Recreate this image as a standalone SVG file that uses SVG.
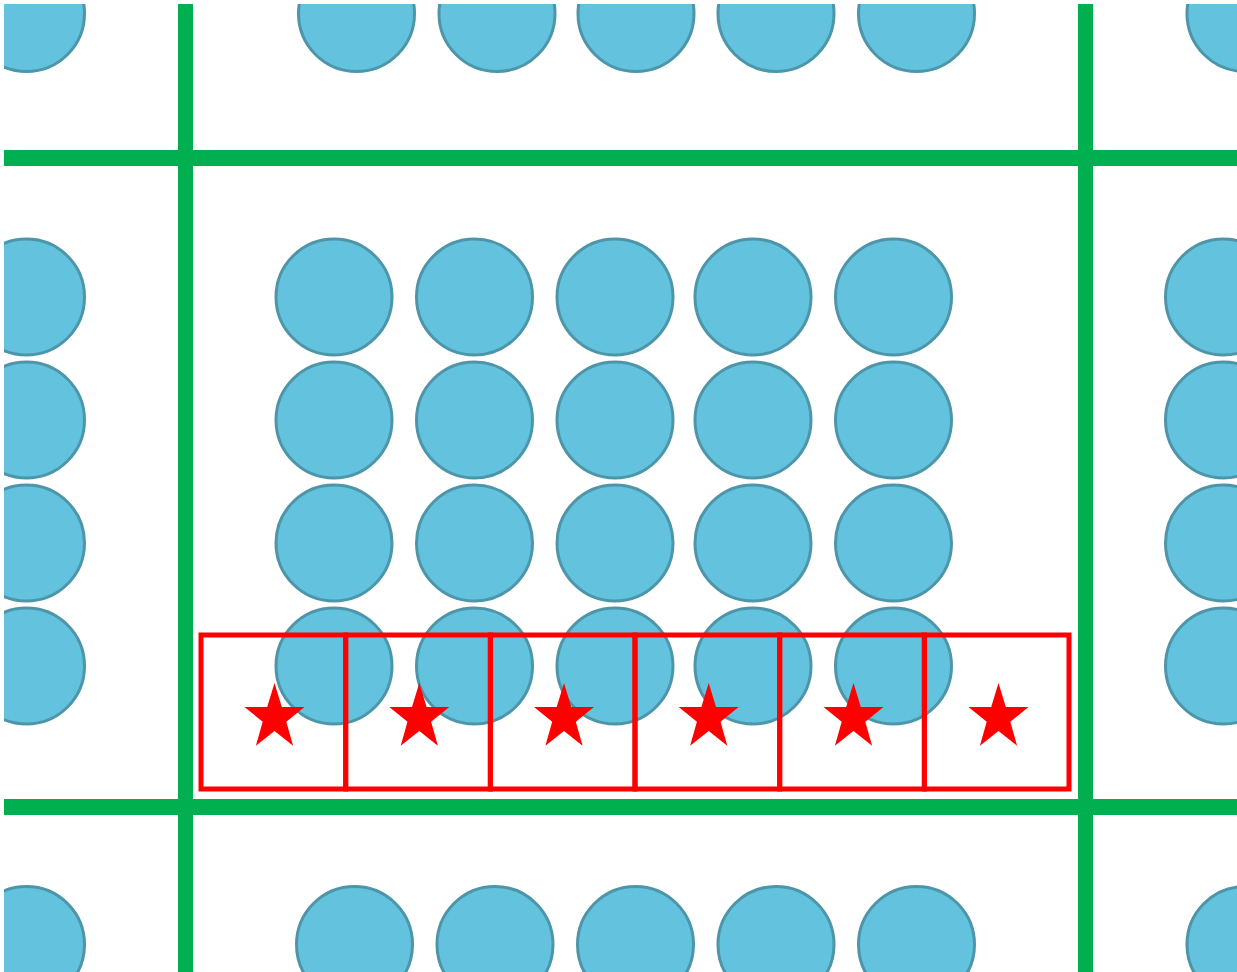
<svg xmlns="http://www.w3.org/2000/svg" xmlns:xlink="http://www.w3.org/1999/xlink" width="1237" height="972" viewBox="0 0 1237 972">
  <style>
    .dot { fill: #63c2dd; stroke: #4d96aa; stroke-width: 3; }
    .grid { stroke: #00b050; stroke-width: 15; fill: none; }
    .cell { fill: none; stroke: #ff0000; stroke-width: 5; }
    .star { fill: #ff0000; }
  </style>
  <defs>
    <clipPath id="frame">
      <rect x="4" y="4" width="1233" height="968"/>
    </clipPath>
    <circle id="c" r="58" class="dot"/>
    <polygon id="s" class="star" points="0,-34.7 7.3,-10.7 30,-10.7 11.8,4.1 18.6,28.1 0,13.2 -18.6,28.1 -11.8,4.1 -30,-10.7 -7.3,-10.7"/>
  </defs>
  <rect x="0" y="0" width="1237" height="972" fill="#ffffff"/>
  <g clip-path="url(#frame)">
    <g id="circles">
      <!-- top partial row -->
      <use xlink:href="#c" x="26.5" y="13.5"/>
      <use xlink:href="#c" x="356.5" y="13.5"/>
      <use xlink:href="#c" x="497" y="13.5"/>
      <use xlink:href="#c" x="636" y="13.5"/>
      <use xlink:href="#c" x="776" y="13.5"/>
      <use xlink:href="#c" x="916.5" y="13.5"/>
      <use xlink:href="#c" x="1245" y="13.5"/>
      <!-- left column -->
      <use xlink:href="#c" x="26.5" y="297"/>
      <use xlink:href="#c" x="26.5" y="420"/>
      <use xlink:href="#c" x="26.5" y="543"/>
      <use xlink:href="#c" x="26.5" y="666"/>
      <!-- right column -->
      <use xlink:href="#c" x="1223.5" y="297"/>
      <use xlink:href="#c" x="1223.5" y="420"/>
      <use xlink:href="#c" x="1223.5" y="543"/>
      <use xlink:href="#c" x="1223.5" y="666"/>
      <!-- central block -->
      <use xlink:href="#c" x="334" y="297"/>
      <use xlink:href="#c" x="474.5" y="297"/>
      <use xlink:href="#c" x="615" y="297"/>
      <use xlink:href="#c" x="753" y="297"/>
      <use xlink:href="#c" x="893.5" y="297"/>
      <use xlink:href="#c" x="334" y="420"/>
      <use xlink:href="#c" x="474.5" y="420"/>
      <use xlink:href="#c" x="615" y="420"/>
      <use xlink:href="#c" x="753" y="420"/>
      <use xlink:href="#c" x="893.5" y="420"/>
      <use xlink:href="#c" x="334" y="543"/>
      <use xlink:href="#c" x="474.5" y="543"/>
      <use xlink:href="#c" x="615" y="543"/>
      <use xlink:href="#c" x="753" y="543"/>
      <use xlink:href="#c" x="893.5" y="543"/>
      <use xlink:href="#c" x="334" y="666"/>
      <use xlink:href="#c" x="474.5" y="666"/>
      <use xlink:href="#c" x="615" y="666"/>
      <use xlink:href="#c" x="753" y="666"/>
      <use xlink:href="#c" x="893.5" y="666"/>
      <!-- bottom partial row -->
      <use xlink:href="#c" x="26.5" y="944.5"/>
      <use xlink:href="#c" x="354.5" y="944.5"/>
      <use xlink:href="#c" x="495" y="944.5"/>
      <use xlink:href="#c" x="635.5" y="944.5"/>
      <use xlink:href="#c" x="776" y="944.5"/>
      <use xlink:href="#c" x="916.5" y="944.5"/>
      <use xlink:href="#c" x="1245" y="944.5"/>
    </g>
    <g id="grid-lines">
      <line class="grid" x1="185.5" y1="0" x2="185.5" y2="972"/>
      <line class="grid" x1="1085.5" y1="0" x2="1085.5" y2="972"/>
      <line class="grid" x1="0" y1="158" x2="1237" y2="158" style="stroke-width:16"/>
      <line class="grid" x1="0" y1="807" x2="1237" y2="807" style="stroke-width:16"/>
    </g>
    <g id="cells">
      <g id="cell1"><rect class="cell" x="201" y="635" width="144.7" height="154"/><use xlink:href="#s" x="274.5" y="717.7"/></g>
      <g id="cell2"><rect class="cell" x="345.7" y="635" width="144.7" height="154"/><use xlink:href="#s" x="419.3" y="717.7"/></g>
      <g id="cell3"><rect class="cell" x="490.3" y="635" width="144.7" height="154"/><use xlink:href="#s" x="564" y="717.7"/></g>
      <g id="cell4"><rect class="cell" x="635" y="635" width="144.7" height="154"/><use xlink:href="#s" x="708.7" y="717.7"/></g>
      <g id="cell5"><rect class="cell" x="779.7" y="635" width="144.7" height="154"/><use xlink:href="#s" x="853.5" y="717.7"/></g>
      <g id="cell6"><rect class="cell" x="924.3" y="635" width="144.7" height="154"/><use xlink:href="#s" x="998.5" y="717.7"/></g>
    </g>
  </g>
</svg>
